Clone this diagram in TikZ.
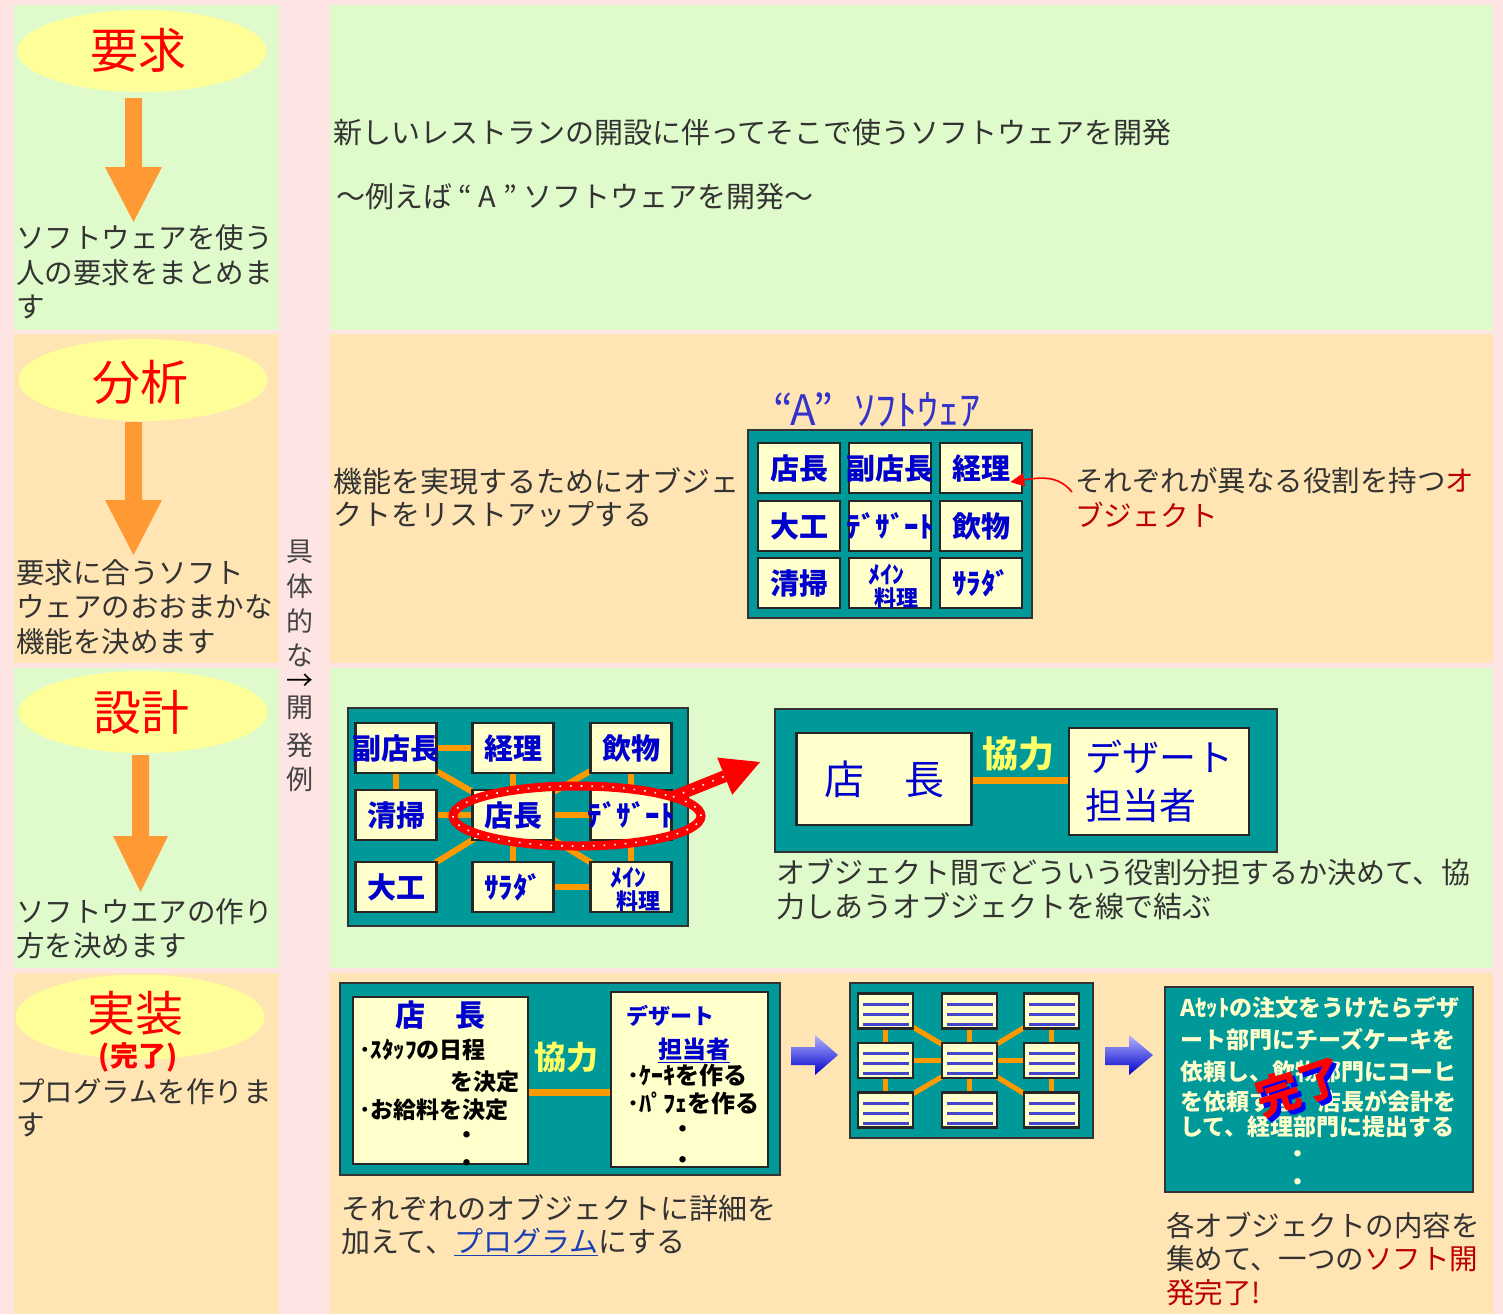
\documentclass[tikz,border=0pt]{standalone}
\usepackage{fontspec}
\setmainfont{Noto Sans CJK JP}
\usetikzlibrary{shapes.geometric,arrows.meta}
\pgfdeclarelayer{back}\pgfdeclarelayer{bg}
\pgfsetlayers{back,bg,main}
\definecolor{pinkbg}{HTML}{FFE4E4}
\definecolor{greenbg}{HTML}{E0FBCB}
\definecolor{peachbg}{HTML}{FFE4B4}
\definecolor{ellcol}{HTML}{FFFF99}
\definecolor{arrcol}{HTML}{FF9933}
\definecolor{tealc}{HTML}{009999}
\definecolor{cellc}{HTML}{FFFFCC}
\definecolor{bluet}{HTML}{0000CC}
\definecolor{linkc}{HTML}{1A3FB5}
\definecolor{conn}{HTML}{FF9900}
\definecolor{txtg}{HTML}{333333}
\definecolor{redt}{HTML}{BB0000}
\definecolor{yel}{HTML}{FFFF66}
\definecolor{titleb}{HTML}{3333CC}
\definecolor{lineb}{HTML}{4444CC}
\definecolor{vtxt}{HTML}{444444}
\tikzset{
  body/.style={font=\fontsize{28.5}{34}\selectfont, text=txtg, inner sep=0pt, anchor=west},
  rbody/.style={body, font=\fontsize{29}{34}\selectfont},
  ell/.style={ellipse, fill=ellcol, inner sep=0pt, minimum width=249pt, minimum height=82pt},
  ellt/.style={font=\fontsize{48}{48}\selectfont, text=red, inner sep=0pt},
  vt/.style={font=\fontsize{27}{27}\selectfont, text=vtxt, inner sep=0pt},
  frame/.style={fill=tealc, draw=black!80, line width=2.5pt, inner sep=0pt},
  cell/.style={fill=cellc, draw=black!85, line width=2.5pt, inner sep=0pt},
  gcell/.style={cell, minimum width=82pt, minimum height=50pt},
  lab/.style={font=\bfseries\fontsize{29}{29}\selectfont, text=bluet, inner sep=0pt},
  link/.style={draw=conn, line width=6pt},
  ktxt/.style={font=\bfseries\fontsize{#1}{#1}\selectfont, text=yel, inner sep=0pt},
  small/.style={font=\bfseries\fontsize{23}{23}\selectfont, text=black, inner sep=0pt},
  qcell/.style={cell, minimum width=55pt, minimum height=35pt},
  wtxt/.style={font=\bfseries\fontsize{23}{23}\selectfont, text=cellc, inner sep=0pt, anchor=west},
}
\newcommand\qlines[1]{%
  \draw[lineb, line width=3pt] ([xshift=-23pt,yshift=7pt]#1.center) -- ([xshift=23pt,yshift=7pt]#1.center);
  \draw[lineb, line width=3pt] ([xshift=-23pt,yshift=-3pt]#1.center) -- ([xshift=23pt,yshift=-3pt]#1.center);
  \draw[lineb, line width=3pt] ([xshift=-23pt,yshift=-13pt]#1.center) -- ([xshift=23pt,yshift=-13pt]#1.center);}
\begin{document}
\begin{tikzpicture}[x=1pt,y=-1pt]
\useasboundingbox (0,0) rectangle (1503,1314);
\begin{pgfonlayer}{back}
\fill[pinkbg] (0,0) rectangle (1503,1314);
\fill[greenbg] (14,5) rectangle (279,330);
\fill[greenbg] (330,5) rectangle (1493,330);
\fill[peachbg] (14,334) rectangle (279,663);
\fill[peachbg] (330,334) rectangle (1493,663);
\fill[greenbg] (14,668) rectangle (279,968);
\fill[greenbg] (330,668) rectangle (1493,968);
\fill[peachbg] (14,973) rectangle (279,1314);
\fill[peachbg] (330,973) rectangle (1493,1314);
\node[frame, minimum width=284pt, minimum height=188pt] (fA) at (890,524) {};
\node[frame, minimum width=340pt, minimum height=218pt] (fB) at (518,817) {};
\node[frame, minimum width=502pt, minimum height=143pt] (fC) at (1026,780.5) {};
\node[frame, minimum width=440pt, minimum height=192pt] (fD) at (560,1079) {};
\node[frame, minimum width=243pt, minimum height=155pt] (fE) at (971.5,1060.5) {};
\node[frame, minimum width=308pt, minimum height=205pt] (fF) at (1319,1089.5) {};
\end{pgfonlayer}

% ---------- left column ----------
\node[ell] (e1) at (142,51) {};
\node[ellt] (e1t) at (138,50) {要求};
\fill[arrcol] (125,98) -- (142,98) -- (142,167) -- (162,167) -- (133.5,222) -- (105,167) -- (125,167) -- cycle;
\node[body] (t1a) at (16,238) {ソフトウェアを使う};
\node[body] (t1b) at (16,273) {人の要求をまとめま};
\node[body] (t1c) at (16,307) {す};

\node[ell] (e2) at (143,380) {};
\node[ellt] (e2t) at (140,382) {分析};
\fill[arrcol] (125,422) -- (142,422) -- (142,500) -- (162,500) -- (133.5,555) -- (105,500) -- (125,500) -- cycle;
\node[body] (t2a) at (16,573) {要求に合うソフト};
\node[body] (t2b) at (16,607) {ウェアのおおまかな};
\node[body] (t2c) at (16,642) {機能を決めます};

\node[ell] (e3) at (143,712) {};
\node[ellt] (e3t) at (141,712) {設計};
\fill[arrcol] (132,755) -- (149,755) -- (149,836) -- (168,836) -- (140.5,892) -- (113,836) -- (132,836) -- cycle;
\node[body] (t3a) at (16,912) {ソフトウエアの作り};
\node[body] (t3b) at (16,946) {方を決めます};

\node[ell, minimum height=85pt] (e4) at (140,1017) {};
\node[ellt] (e4t) at (135,1013) {実装};
\node[font=\bfseries\fontsize{28}{28}\selectfont, text=red, inner sep=0pt] (e4s) at (138,1057) {(完了)};
\node[body] (t4a) at (16,1092) {プログラムを作りま};
\node[body] (t4b) at (16,1125) {す};

% ---------- middle column ----------
\node[vt] (v1) at (300,552) {具};
\node[vt] (v2) at (300,586) {体};
\node[vt] (v3) at (300,621) {的};
\node[vt] (v4) at (300,655) {な};
\node[vt, text=black] (v5) at (300,682) {→};
\node[vt] (v6) at (300,708) {開};
\node[vt] (v7) at (300,745) {発};
\node[vt] (v8) at (300,779) {例};

% ---------- row 1 ----------
\node[rbody] (r1a) at (333,133) {新しいレストランの開設に伴ってそこで使うソフトウェアを開発};
\node[rbody] (r1b) at (336,197) {～例えば “ A ” ソフトウェアを開発～};

% ---------- row 2 ----------
\node[rbody] (r2a) at (333,481) {機能を実現するためにオブジェ};
\node[rbody] (r2b) at (333,515) {クトをリストアップする};
\node[body] (r2c) at (1075,481) {それぞれが異なる役割を持つ{\color{redt}オ}};
\node[body, text=redt] (r2d) at (1075,515) {ブジェクト};
\node[font=\fontsize{42}{42}\selectfont, text=titleb, inner sep=0pt] (ttl) at (877,410) {“A”\enspace ｿﾌﾄｳｪｱ};
\node[gcell] (b11) at (799,468) {};
\node[gcell] (b12) at (890,468) {};
\node[gcell] (b13) at (981,468) {};
\node[gcell] (b21) at (799,526) {};
\node[gcell] (b22) at (890,526) {};
\node[gcell] (b23) at (981,526) {};
\node[gcell] (b31) at (799,583) {};
\node[gcell] (b32) at (890,583) {};
\node[gcell] (b33) at (981,583) {};
\node[lab] (lb11) at (b11) {店長};
\node[lab] (lb12) at (b12) {副店長};
\node[lab] (lb13) at (b13) {経理};
\node[lab] (lb21) at (b21) {大工};
\node[lab] (lb22) at (b22) {ﾃﾞｻﾞｰﾄ};
\node[lab] (lb23) at (b23) {飲物};
\node[lab] (lb31) at (b31) {清掃};
\node[lab, font=\bfseries\fontsize{24}{24}\selectfont] (lb32a) at (886,575) {ﾒｲﾝ};
\node[lab, font=\bfseries\fontsize{22}{22}\selectfont] (lb32b) at (896,598) {料理};
\node[lab] (lb33) at (b33) {ｻﾗﾀﾞ};
\draw[red, line width=1.6pt, -{Triangle[length=14pt,width=13pt]}]
  ([xshift=-3pt,yshift=-11pt]r2c.west) .. controls (1060,478) and (1048,476) .. ([xshift=-13pt,yshift=-14pt]b13.east);

% ---------- row 3 ----------
\node[gcell, minimum width=81pt] (a11) at (396,748) {};
\node[gcell, minimum width=81pt] (a12) at (513,748) {};
\node[gcell, minimum width=81pt] (a13) at (631,748) {};
\node[gcell, minimum width=81pt] (a21) at (396,815) {};
\node[gcell, minimum width=81pt] (a22) at (513,815) {};
\node[gcell, minimum width=81pt] (a23) at (631,815) {};
\node[gcell, minimum width=81pt] (a31) at (396,887) {};
\node[gcell, minimum width=81pt] (a32) at (513,887) {};
\node[gcell, minimum width=81pt] (a33) at (631,887) {};
\node[lab] (la11) at (a11) {副店長};
\node[lab] (la12) at (a12) {経理};
\node[lab] (la13) at (a13) {飲物};
\node[lab] (la21) at (a21) {清掃};
\node[lab] (la22) at (a22) {店長};
\node[lab] (la23) at (a23) {ﾃﾞｻﾞｰﾄ};
\node[lab] (la31) at (a31) {大工};
\node[lab] (la32) at (a32) {ｻﾗﾀﾞ};
\node[lab, font=\bfseries\fontsize{24}{24}\selectfont] (la33a) at (628,878) {ﾒｲﾝ};
\node[lab, font=\bfseries\fontsize{22}{22}\selectfont] (la33b) at (638,901) {料理};
\begin{pgfonlayer}{bg}
\foreach \n in {a11,a12,a13,a21,a23,a31,a32,a33} \draw[link] (a22.center) -- (\n.center);
\draw[link] (a11.center) -- (a12.center);
\draw[link] (a11.center) -- (a21.center);
\draw[link] (a13.center) -- (a23.center);
\draw[link] (a23.center) -- (a33.center);
\draw[link] (a32.center) -- (a33.center);
\end{pgfonlayer}
\node[ellipse, draw=red, line width=9pt, minimum width=248pt, minimum height=60pt, inner sep=0pt] (oval) at (577,816) {};
\draw[white, line width=1.6pt, dash pattern=on 1.6pt off 9pt] (oval.center) ellipse [x radius=124pt, y radius=30pt];
\coordinate (rtip) at (760,762);
\coordinate (rbase) at (724.7,776.2);
\draw[red, line width=12pt] (673,797) -- (rbase);
\fill[red] (rtip) -- (732.2,794.8) -- (717.2,757.6) -- cycle;
\draw[white, line width=1.6pt, dash pattern=on 1.6pt off 9pt] (673,797) -- (rbase);
\node[cell, minimum width=175pt, minimum height=92pt, font=\fontsize{40}{40}\selectfont, text=bluet] (d1) at (884,779) {店\quad 長};
\node[cell, minimum width=180pt, minimum height=107pt, font=\fontsize{37}{48}\selectfont, text=bluet, align=left] (d2) at (1159,781.5) {デザート\\担当者};
\coordinate (d1c) at ([yshift=-1pt]d1.east);
\begin{pgfonlayer}{bg}
\draw[link, line width=7pt] (d1c) -- (d1c -| d2.west);
\end{pgfonlayer}
\node[ktxt=36] (k3) at (1018,754) {協力};
\node[rbody] (c3a) at (776,872) {オブジェクト間でどういう役割分担するか決めて、協};
\node[rbody] (c3b) at (776,906) {力しあうオブジェクトを線で結ぶ};

% ---------- row 4 ----------
\node[cell, minimum width=175pt, minimum height=167pt] (g1) at (440.5,1080.5) {};
\node[cell, minimum width=157pt, minimum height=175pt] (g2) at (689.5,1079.5) {};
\coordinate (g1c) at ([yshift=-11.5pt]g1.east);
\begin{pgfonlayer}{bg}
\draw[link, line width=7pt] (g1c) -- (g1c -| g2.west);
\end{pgfonlayer}
\node[ktxt=32] (k4) at (566,1057) {協力};
\node[lab, font=\bfseries\fontsize{30}{30}\selectfont] (n1) at (440,1015) {店\quad 長};
\node[small, anchor=west] (n2) at (359,1050) {･ｽﾀｯﾌの日程};
\node[small, anchor=east] (n3) at (520,1082) {を決定};
\node[small, anchor=west] (n4) at (359,1110) {･お給料を決定};
\node[small] (n5) at (467,1138) {・};
\node[small] (n6) at (467,1166) {・};
\node[lab, font=\bfseries\fontsize{22}{22}\selectfont] (m1) at (670,1016) {デザート};
\node[lab, font=\bfseries\fontsize{24}{24}\selectfont] (m2) at (694,1050) {\underline{担当者}};
\node[small, anchor=west, font=\bfseries\fontsize{24}{24}\selectfont] (m3) at (627,1075) {･ｹｰｷを作る};
\node[small, anchor=west, font=\bfseries\fontsize{24}{24}\selectfont] (m4) at (627,1103) {･ﾊﾟﾌｪを作る};
\node[small] (m5) at (683,1132) {・};
\node[small] (m6) at (683,1163) {・};

\shade[top color=blue!30, bottom color=blue!80!black] (791,1047) -- (815,1047) -- (815,1035) -- (838,1055) -- (815,1075) -- (815,1065) -- (791,1065) -- cycle;
\shade[top color=blue!30, bottom color=blue!80!black] (1105,1047) -- (1129,1047) -- (1129,1035) -- (1153,1055) -- (1129,1075) -- (1129,1065) -- (1105,1065) -- cycle;

\node[qcell] (q11) at (885.5,1011) {};
\node[qcell] (q12) at (969.5,1011) {};
\node[qcell] (q13) at (1051.5,1011) {};
\node[qcell] (q21) at (885.5,1060.5) {};
\node[qcell] (q22) at (969.5,1060.5) {};
\node[qcell] (q23) at (1051.5,1060.5) {};
\node[qcell] (q31) at (885.5,1110) {};
\node[qcell] (q32) at (969.5,1110) {};
\node[qcell] (q33) at (1051.5,1110) {};
\foreach \n in {q11,q12,q13,q21,q22,q23,q31,q32,q33} {\qlines{\n}}
\begin{pgfonlayer}{bg}
\foreach \n in {q11,q12,q13,q21,q23,q31,q32,q33} \draw[link, line width=5pt] (q22.center) -- (\n.center);
\draw[link, line width=5pt] (q11.center) -- (q21.center);
\draw[link, line width=5pt] (q21.center) -- (q31.center);
\draw[link, line width=5pt] (q13.center) -- (q23.center);
\draw[link, line width=5pt] (q23.center) -- (q33.center);
\end{pgfonlayer}

\node[wtxt] (w1) at (1180,1008) {Aｾｯﾄの注文をうけたらデザ};
\node[wtxt] (w2) at (1180,1040) {ート部門にチーズケーキを};
\node[wtxt] (w3) at (1180,1072) {依頼し、飲物部門にコーヒ};
\node[wtxt] (w4) at (1180,1102) {を依頼する、店長が会計を};
\node[wtxt] (w5) at (1180,1127) {して、経理部門に提出する};
\node[wtxt, anchor=center] (w6) at (1298,1157) {・};
\node[wtxt, anchor=center] (w7) at (1298,1185) {・};
\node[font=\bfseries\fontsize{44}{44}\selectfont, text=blue, inner sep=0pt, rotate=18] (kanB) at (1303,1091) {完了};
\node[font=\bfseries\fontsize{44}{44}\selectfont, text=red, inner sep=0pt, rotate=18] (kanA) at (1299,1087) {完了};

\node[rbody] (c4a) at (341,1208) {それぞれのオブジェクトに詳細を};
\node[rbody] (c4b) at (341,1242) {加えて、{\color{linkc}\underline{プログラム}}にする};
\node[body] (c4c) at (1166,1225) {各オブジェクトの内容を};
\node[body] (c4d) at (1166,1259) {集めて、一つの{\color{redt}ソフト開}};
\node[body, text=redt] (c4e) at (1166,1293) {発完了!};
\end{tikzpicture}
\end{document}
